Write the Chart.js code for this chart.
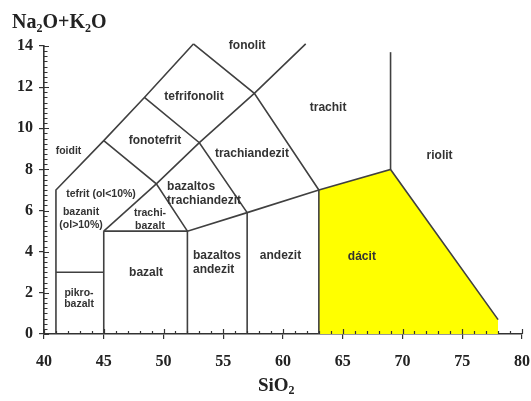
<!DOCTYPE html>
<html>
<head>
<meta charset="utf-8">
<script src="https://cdn.jsdelivr.net/npm/chart.js@4.4.1/dist/chart.umd.min.js"></script>
<style>
  html, body { margin: 0; padding: 0; background: #fff; }
  #wrap { width: 531px; height: 401px; }
</style>
</head>
<body>
<div id="wrap"><canvas id="tas"></canvas></div>
<script>
// axis ticks
const xTickLabels = [40, 45, 50, 55, 60, 65, 70, 75, 80];
const yTickLabels = [0, 2, 4, 6, 8, 10, 12, 14];

// field boundaries, [SiO2, Na2O+K2O]
const foiditBound = [[41, 0], [41, 7], [45, 9.4], [48.4, 11.5], [52.5, 14.1]];
const fonolitBound = [[52.5, 14.1], [57.6, 11.7], [63, 7]];
const trachitBound = [[49.4, 7.3], [53, 9.3], [57.6, 11.7], [61.9, 14.1]];
const tefritBound = [[45, 9.4], [49.4, 7.3], [52, 5]];
const fonotefritBound = [[48.4, 11.5], [53, 9.3], [57, 5.9]];
const trachibazaltBound = [[45, 5], [49.4, 7.3]];
const subalkalineBound = [[45, 5], [52, 5], [57, 5.9], [63, 7], [69, 8], [78, 0.7]];
const pikroBound = [[41, 3], [45, 3]];
const line45 = [[45, 0], [45, 5]];
const line52 = [[52, 0], [52, 5]];
const line57 = [[57, 0], [57, 5.9]];
const line63 = [[63, 0], [63, 7]];
const line69 = [[69, 8], [69, 13.7]];

// highlighted field
const daciteField = [[63, 0], [63, 7], [69, 8], [78, 0.7], [78, 0]];

// field names
const fieldNames = [
  { t: ['fonolit'], x: 57.0, y: 14.0 },
  { t: ['tefrifonolit'], x: 52.55, y: 11.53 },
  { t: ['trachit'], x: 63.77, y: 11.0 },
  { t: ['riolit'], x: 73.1, y: 8.67 },
  { t: ['foidit'], x: 42.05, y: 8.91, small: true },
  { t: ['fonotefrit'], x: 49.29, y: 9.4 },
  { t: ['trachiandezit'], x: 57.4, y: 8.77 },
  { t: ['tefrit (ol<10%)'], x: 44.77, y: 6.78, small: true },
  { t: ['bazanit', '(ol>10%)'], x: 43.1, y: 5.6, small: true },
  { t: ['trachi-', 'bazalt'], x: 48.87, y: 5.57, small: true },
  { t: ['bazaltos', 'trachiandezit'], x: 50.3, y: 6.83, left: true },
  { t: ['bazalt'], x: 48.54, y: 3.0 },
  { t: ['bazaltos', 'andezit'], x: 52.47, y: 3.46, left: true },
  { t: ['andezit'], x: 59.79, y: 3.83 },
  { t: ['dácit'], x: 66.6, y: 3.78 },
  { t: ['pikro-', 'bazalt'], x: 42.93, y: 1.72, small: true, lh: 11 }
];

const boundaries = [foiditBound, fonolitBound, trachitBound, tefritBound, fonotefritBound,
  trachibazaltBound, subalkalineBound, pikroBound, line45, line52, line57, line63, line69];

const toXY = arr => arr.map(p => ({ x: p[0], y: p[1] }));

const datasets = boundaries.map(b => ({
  data: toXY(b),
  showLine: true,
  borderColor: '#404040',
  borderWidth: 1.6,
  pointRadius: 0,
  fill: false,
  clip: false,
  order: 0
}));
datasets.push({
  data: toXY(daciteField),
  showLine: true,
  borderWidth: 0,
  borderColor: 'rgba(0,0,0,0)',
  backgroundColor: '#ffff00',
  pointRadius: 0,
  fill: 'origin',
  clip: false,
  order: 10
});

function drawSub(ctx, parts, x, y, size) {
  // parts: [text, isSub]
  let cx = x;
  parts.forEach(p => {
    ctx.font = 'bold ' + (p[1] ? Math.round(size * 0.62) : size) + 'px "Liberation Serif"';
    ctx.fillText(p[0], cx, p[1] ? y + size * 0.18 : y);
    cx += ctx.measureText(p[0]).width;
  });
  return cx - x;
}

const decor = {
  id: 'decor',
  afterDraw(chart) {
    const { ctx, scales: { x, y } } = chart;
    const x0 = x.getPixelForValue(40);
    const y0 = y.getPixelForValue(0);
    ctx.save();
    ctx.strokeStyle = '#333';
    ctx.lineWidth = 1.2;
    ctx.beginPath();
    for (let v = 40; v <= 80; v++) {
      const px = Math.round(x.getPixelForValue(v)) + 0.5;
      const len = v % 5 === 0 ? 5 : 3;
      ctx.moveTo(px, y0);
      ctx.lineTo(px, y0 - len);
    }
    for (let i = 0; i <= 56; i++) {
      const py = Math.round(y.getPixelForValue(i * 0.25)) + 0.5;
      const len = i % 8 === 0 ? 5 : 3.5;
      ctx.moveTo(x0, py);
      ctx.lineTo(x0 + len, py);
    }
    ctx.stroke();

    // field names
    ctx.fillStyle = '#333';
    ctx.textBaseline = 'middle';
    fieldNames.forEach(f => {
      const size = f.small ? 10.5 : 12;
      ctx.font = 'bold ' + size + 'px "Liberation Sans"';
      ctx.textAlign = f.left ? 'left' : 'center';
      const lh = f.lh || 13.5;
      const px = x.getPixelForValue(f.x);
      const py = y.getPixelForValue(f.y) - (f.t.length - 1) * lh / 2;
      f.t.forEach((s, i) => ctx.fillText(s, px, py + i * lh));
    });

    // axis titles
    ctx.fillStyle = '#222';
    ctx.textAlign = 'left';
    ctx.textBaseline = 'alphabetic';
    drawSub(ctx, [['Na', 0], ['2', 1], ['O+K', 0], ['2', 1], ['O', 0]], 12, 28, 20);
    drawSub(ctx, [['SiO', 0], ['2', 1]], 258, 391, 19);
    ctx.restore();
  }
};

new Chart(document.getElementById('tas'), {
  type: 'scatter',
  data: { datasets: datasets },
  plugins: [decor],
  options: {
    responsive: true,
    maintainAspectRatio: false,
    animation: false,
    layout: { padding: { top: 46, right: 0, bottom: 0, left: 0 } },
    plugins: { legend: { display: false }, tooltip: { enabled: false } },
    scales: {
      x: {
        type: 'linear',
        min: 40,
        max: 80,
        afterBuildTicks: s => { s.ticks = xTickLabels.map(v => ({ value: v })); },
        afterFit: s => { s.height = 67; s.paddingLeft = 0; s.paddingRight = 9; },
        ticks: { font: { family: 'Liberation Serif', size: 16, weight: 'bold' }, color: '#222', padding: 13, maxRotation: 0 },
        grid: { display: true, drawOnChartArea: false, drawTicks: true, tickLength: 5, color: '#333', lineWidth: 1.2 },
        border: { display: true, color: '#333', width: 1.6 }
      },
      y: {
        type: 'linear',
        min: 0,
        max: 14,
        afterBuildTicks: s => { s.ticks = yTickLabels.map(v => ({ value: v })); },
        afterFit: s => { s.width = 44; s.paddingTop = 0; s.paddingBottom = 0; },
        ticks: { font: { family: 'Liberation Serif', size: 16, weight: 'bold' }, color: '#222', padding: 6 },
        grid: { display: true, drawOnChartArea: false, drawTicks: true, tickLength: 5, color: '#333', lineWidth: 1.2 },
        border: { display: true, color: '#333', width: 1.6 }
      }
    }
  }
});
</script>
</body>
</html>
